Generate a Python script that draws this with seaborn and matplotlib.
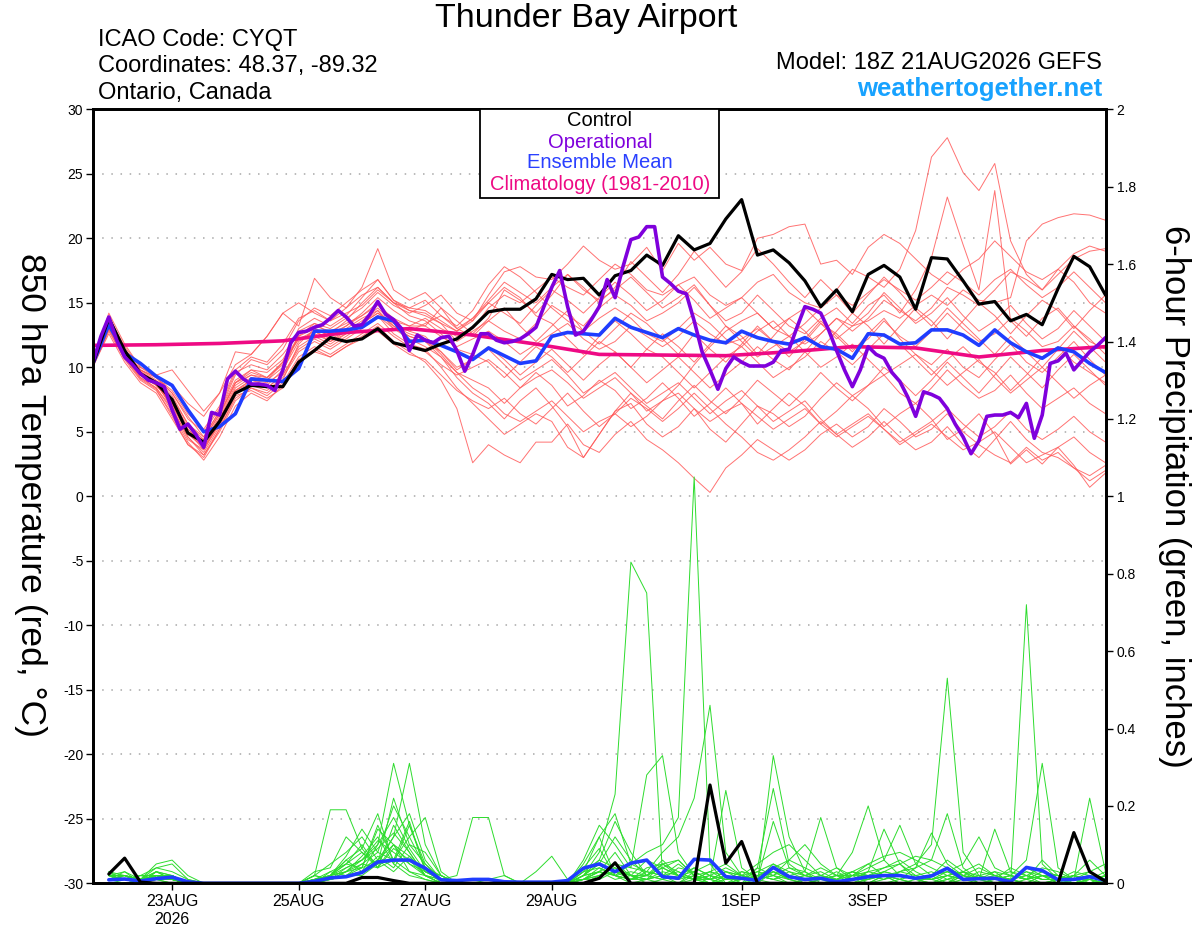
import matplotlib
matplotlib.use('Agg')
import matplotlib.pyplot as plt
import pandas as pd
import seaborn as sns
from matplotlib.patches import Rectangle

START = pd.Timestamp('2026-08-21 18:00')

# 850 hPa temperature, 6-hourly from 18Z 21AUG (65 steps)
control_t = [10.3, 13.8, 11.3, 9.5, 8.8, 7.5, 4.9, 4.2, 5.8, 8.0, 8.6, 8.5, 8.5,
             10.4, 11.3, 12.3, 12.0, 12.2, 13.0, 11.9, 11.6, 11.3, 11.8, 12.2, 13.1,
             14.3, 14.5, 14.5, 15.3, 17.2, 16.8, 16.9, 15.6, 17.1, 17.5, 18.7, 17.9,
             20.2, 19.1, 19.6, 21.5, 23.0, 18.7, 19.1, 18.1, 16.7, 14.7, 16.0, 14.3,
             17.2, 17.9, 17.0, 14.5, 18.5, 18.4, 16.7, 14.9, 15.1, 13.6, 14.1, 13.3,
             16.1, 18.6, 17.8, 15.6]
mean_t = [10.3, 13.3, 11.1, 10.3, 9.3, 8.6, 6.7, 5.0, 5.4, 6.4, 9.1, 9.0, 8.9,
          9.9, 12.8, 12.8, 12.9, 13.1, 13.9, 13.6, 12.0, 12.1, 11.7, 11.2, 10.6,
          11.5, 10.9, 10.3, 10.5, 12.4, 12.7, 12.6, 12.5, 13.8, 13.1, 12.7, 12.3,
          13.0, 12.5, 12.1, 11.9, 12.8, 12.3, 12.0, 11.8, 12.3, 11.6, 11.4, 10.7,
          12.6, 12.5, 11.8, 11.9, 12.9, 12.9, 12.5, 11.7, 12.9, 11.9, 11.2, 10.7,
          11.5, 11.2, 10.3, 9.6]
# operational run, 3-hourly (129 steps)
oper_t = [10.4, 12.4, 13.9, 12.1, 10.8, 10.2, 9.5, 9.0,
          8.8, 8.5, 6.7, 5.2, 5.6, 4.8, 3.8, 6.5,
          6.3, 9.1, 9.7, 9.1, 8.7, 8.7, 8.6, 8.2,
          9.8, 11.9, 12.7, 12.8, 13.1, 13.3, 13.8, 14.4,
          13.9, 13.2, 13.3, 14.1, 15.1, 14.1, 13.7, 13.0,
          11.3, 12.5, 12.1, 11.9, 12.3, 12.4, 11.3, 9.7,
          11.0, 12.6, 12.6, 12.1, 11.9, 12.0, 12.2, 12.6,
          13.1, 14.7, 16.2, 17.5, 14.7, 12.5, 12.8, 13.7,
          14.7, 16.8, 15.4, 17.8, 19.9, 20.1, 20.9, 20.9,
          17.0, 16.5, 15.9, 15.7, 13.6, 11.2, 9.8, 8.3,
          9.9, 10.8, 10.4, 10.1, 10.1, 10.1, 10.4, 11.3,
          11.4, 13.1, 14.7, 14.5, 14.2, 12.9, 11.3, 9.8,
          8.5, 9.8, 11.6, 11.0, 10.7, 9.6, 8.9, 7.7,
          6.2, 8.1, 7.9, 7.6, 6.8, 5.6, 4.6, 3.3,
          4.3, 6.2, 6.3, 6.3, 6.5, 6.1, 7.2, 4.5,
          6.3, 10.3, 10.5, 11.1, 9.8, 10.5, 11.2, 11.7,
          12.3]
# climatology, daily (17 steps)
clim_t = [11.7, 11.75, 11.85, 12.05, 12.7, 13.0, 12.5, 11.8, 11.0, 10.95, 10.9,
          11.2, 11.6, 11.5, 10.8, 11.3, 11.6]

member_t = [
    [10.2, 13.4, 11.0, 9.4, 8.6, 7.2, 5.0, 3.6, 5.8, 8.2, 9.0, 8.8, 9.6, 12.6, 13.2, 12.8, 13.4,
     14.0, 15.0, 13.6, 13.2, 13.8, 13.0, 12.4, 13.0, 14.6, 15.6, 15.0, 16.0, 17.0, 16.2, 15.6, 16.8,
     18.0, 17.2, 16.0, 15.6, 16.4, 17.0, 15.6, 14.8, 15.4, 16.6, 17.2, 15.8, 15.0, 14.6, 16.0, 17.6,
     17.0, 16.2, 17.6, 20.6, 26.3, 27.8, 25.1, 23.7, 25.8, 19.8, 17.2, 16.0, 17.6, 16.6, 15.0, 14.2],
    [10.4, 13.8, 11.4, 9.8, 9.2, 8.0, 6.2, 4.6, 6.6, 9.4, 10.6, 10.2, 11.4, 13.6, 14.6, 14.0, 15.0,
     16.0, 16.8, 15.2, 14.4, 14.0, 13.4, 12.0, 12.8, 13.6, 12.8, 12.2, 13.4, 14.8, 14.0, 13.2, 14.6,
     15.6, 14.8, 13.6, 14.2, 15.0, 16.2, 14.8, 13.6, 14.2, 15.6, 14.4, 13.2, 12.6, 13.8, 14.6, 13.4,
     14.8, 15.6, 14.2, 16.0, 18.5, 23.2, 19.5, 16.0, 23.7, 13.6, 12.4, 13.8, 14.6, 13.2, 12.0, 11.4],
    [10.1, 13.0, 10.8, 9.2, 8.4, 6.8, 4.6, 3.2, 5.2, 7.6, 8.4, 8.0, 9.0, 11.8, 13.0, 12.6, 13.6,
     15.0, 16.2, 15.0, 14.6, 15.2, 14.0, 13.2, 14.4, 16.4, 17.8, 17.0, 15.8, 14.6, 13.6, 12.8, 13.8,
     14.6, 13.8, 12.6, 12.0, 13.0, 14.2, 13.4, 12.2, 11.6, 12.8, 13.6, 12.4, 11.8, 12.6, 13.8, 13.2,
     13.6, 14.4, 13.8, 14.8, 15.6, 14.8, 16.0, 15.2, 15.0, 15.4, 19.8, 21.1, 21.6, 21.9, 21.8, 21.4],
    [10.0, 12.8, 10.6, 9.0, 8.2, 6.4, 4.2, 2.8, 4.6, 7.0, 8.0, 7.4, 8.6, 10.6, 11.4, 10.8, 11.6,
     12.4, 13.2, 12.0, 11.2, 10.4, 9.0, 6.8, 2.6, 4.0, 3.2, 2.6, 4.2, 4.2, 5.6, 4.0, 3.4,
     4.8, 5.8, 4.4, 3.6, 2.6, 1.4, 0.3, 2.2, 3.2, 4.4, 3.6, 2.8, 3.6, 4.8, 5.6, 4.6,
     5.4, 6.8, 5.8, 4.6, 5.2, 6.4, 5.0, 4.0, 3.2, 2.6, 3.8, 2.8, 3.4, 2.2, 1.6, 2.4],
    [10.3, 13.2, 11.0, 9.6, 8.8, 7.6, 5.6, 4.4, 6.4, 8.8, 9.8, 9.2, 10.4, 12.2, 12.8, 12.0, 12.6,
     13.4, 14.4, 13.0, 12.4, 12.0, 11.2, 10.0, 10.6, 11.4, 10.2, 9.0, 9.8, 10.6, 9.4, 8.0, 8.8,
     9.6, 8.4, 7.2, 8.0, 8.8, 7.6, 6.4, 7.4, 8.2, 7.0, 5.8, 6.6, 7.4, 6.0, 4.8, 5.6,
     6.4, 5.2, 4.0, 4.8, 5.6, 4.6, 3.6, 4.2, 5.0, 3.8, 2.6, 3.2, 3.8, 2.4, 0.7, 1.8],
    [10.5, 14.2, 11.8, 10.0, 9.4, 9.8, 8.2, 6.6, 8.0, 11.2, 11.0, 12.4, 14.2, 13.2, 16.9, 15.4, 14.6,
     16.2, 19.2, 16.0, 15.2, 15.8, 14.6, 13.0, 13.8, 15.0, 16.2, 15.4, 14.0, 13.4, 12.2, 11.0, 12.4,
     13.6, 12.6, 11.4, 10.8, 9.6, 8.4, 9.6, 10.8, 11.6, 10.4, 9.2, 10.0, 10.8, 12.0, 11.2, 10.2,
     11.4, 12.6, 11.8, 10.6, 9.4, 10.6, 11.6, 10.4, 9.6, 8.2, 9.4, 10.8, 11.6, 10.4, 9.6, 8.8],
    [10.2, 13.6, 11.2, 9.6, 8.8, 7.4, 5.4, 4.2, 6.0, 8.6, 9.4, 9.0, 10.0, 12.4, 13.4, 13.0, 13.8,
     14.6, 15.8, 14.8, 14.2, 14.8, 15.6, 14.2, 13.6, 15.6, 17.4, 17.8, 17.0, 16.8, 18.0, 19.4, 18.3,
     17.6, 18.0, 19.3, 17.5, 19.6, 18.3, 19.3, 18.0, 17.5, 20.0, 20.3, 20.9, 21.1, 18.0, 18.3, 17.2,
     19.3, 20.3, 19.6, 18.4, 17.2, 16.4, 17.6, 18.4, 19.8, 18.6, 17.4, 16.8, 17.6, 18.8, 19.4, 19.0],
    [10.3, 13.4, 11.0, 9.4, 8.8, 6.8, 4.6, 3.4, 5.4, 8.0, 8.6, 8.2, 9.2, 11.2, 12.0, 11.4, 12.2,
     13.0, 14.0, 12.6, 11.8, 11.4, 10.0, 8.4, 7.2, 6.0, 4.8, 5.6, 6.4, 5.8, 3.8, 3.0, 4.8,
     6.6, 7.2, 5.6, 4.6, 5.4, 6.8, 5.2, 4.2, 5.6, 7.0, 6.4, 5.4, 6.2, 7.6, 8.8, 7.8,
     8.6, 9.4, 8.0, 7.2, 8.4, 9.8, 8.6, 7.6, 8.2, 9.4, 8.0, 6.8, 7.6, 8.4, 7.2, 6.4],
    [10.4, 13.6, 11.4, 9.8, 9.0, 7.8, 5.6, 4.6, 6.6, 9.0, 9.8, 9.6, 10.6, 12.8, 13.4, 12.6, 13.2,
     14.0, 14.8, 13.8, 13.2, 13.2, 12.4, 11.6, 12.2, 12.8, 12.0, 11.0, 11.8, 12.6, 13.4, 12.2, 11.4,
     12.0, 13.2, 12.4, 11.6, 12.4, 13.6, 12.6, 11.8, 12.2, 13.0, 12.0, 11.2, 12.0, 13.4, 12.6, 11.4,
     12.2, 13.6, 12.4, 11.6, 12.8, 14.2, 13.0, 12.0, 12.6, 13.8, 12.8, 11.6, 12.0, 13.2, 12.2, 11.0],
    [10.1, 12.6, 10.4, 8.8, 8.0, 6.0, 4.0, 3.2, 5.0, 7.4, 8.4, 7.8, 8.8, 10.8, 11.6, 11.0, 11.8,
     12.6, 13.4, 12.4, 11.6, 11.2, 10.2, 9.4, 10.0, 10.6, 9.6, 8.4, 9.2, 9.8, 8.8, 7.6, 8.4,
     9.2, 8.0, 6.6, 7.4, 8.0, 6.8, 5.8, 6.6, 7.2, 6.2, 5.2, 6.0, 6.8, 5.6, 4.6, 5.4,
     6.2, 5.2, 4.2, 5.0, 5.8, 6.8, 5.6, 4.6, 5.4, 6.6, 5.2, 4.4, 5.2, 6.2, 5.0, 4.2],
    [10.3, 13.5, 11.3, 9.6, 8.7, 7.0, 4.8, 3.8, 5.8, 8.4, 9.2, 9.0, 10.4, 13.0, 13.8, 13.2, 14.0,
     15.4, 16.8, 15.2, 14.6, 14.4, 13.6, 12.8, 13.6, 15.0, 14.2, 13.4, 14.8, 16.0, 15.2, 14.2, 15.4,
     16.6, 15.6, 14.4, 15.2, 16.4, 15.2, 13.8, 14.6, 15.4, 14.2, 13.0, 13.8, 14.6, 13.4, 12.2, 13.2,
     14.2, 15.8, 14.6, 13.4, 14.2, 15.4, 14.0, 12.8, 13.6, 14.8, 13.4, 12.2, 13.0, 14.4, 13.2, 12.0],
    [10.2, 13.3, 11.1, 9.4, 8.6, 7.4, 5.2, 4.0, 6.0, 8.2, 9.0, 8.6, 9.8, 12.0, 12.8, 12.2, 12.8,
     13.6, 14.6, 13.4, 12.8, 12.4, 11.2, 9.8, 10.6, 11.6, 10.6, 9.4, 10.4, 11.4, 10.2, 9.0, 10.2,
     11.2, 10.0, 8.8, 9.8, 10.8, 9.6, 8.4, 9.4, 10.4, 11.6, 10.6, 9.8, 11.2, 12.6, 13.8, 12.8,
     13.8, 15.2, 14.4, 13.6, 14.6, 16.2, 15.6, 14.8, 16.0, 17.4, 16.8, 16.0, 17.2, 18.4, 19.0, 19.2],
    [10.4, 13.7, 11.2, 9.8, 9.2, 8.0, 6.0, 5.0, 6.8, 9.6, 10.2, 9.8, 11.0, 12.6, 13.0, 12.4, 13.0,
     13.8, 14.4, 13.2, 12.6, 12.2, 11.0, 9.6, 9.0, 8.4, 7.2, 8.4, 9.6, 8.6, 7.0, 7.8, 9.0,
     8.2, 6.8, 7.6, 8.8, 7.6, 6.2, 7.2, 8.4, 7.2, 5.6, 6.8, 8.0, 7.0, 5.6, 6.6, 7.8,
     6.8, 5.4, 6.4, 7.2, 6.0, 4.4, 5.2, 6.4, 4.8, 2.5, 3.6, 2.5, 3.8, 4.6, 3.4, 2.6],
    [10.2, 13.0, 10.8, 9.4, 8.6, 7.2, 5.0, 4.4, 6.4, 8.8, 9.4, 9.2, 10.2, 12.2, 12.6, 12.0, 12.8,
     13.4, 14.2, 13.4, 12.8, 13.4, 14.0, 13.0, 12.4, 13.6, 14.6, 13.2, 12.0, 13.2, 14.4, 12.8, 11.8,
     13.0, 14.2, 13.4, 12.2, 11.0, 12.6, 11.4, 10.4, 11.8, 13.2, 12.0, 10.8, 12.2, 13.6, 12.4, 11.2,
     12.6, 13.8, 12.2, 11.0, 10.2, 11.4, 10.0, 9.2, 10.6, 11.8, 10.4, 9.6, 10.8, 12.0, 10.6, 9.4],
    [10.3, 13.1, 10.9, 9.2, 8.4, 6.6, 4.4, 3.6, 5.6, 8.2, 8.8, 8.4, 9.4, 11.4, 12.2, 11.6, 12.4,
     13.2, 14.0, 13.0, 12.2, 11.6, 10.8, 9.6, 8.4, 7.6, 6.4, 5.8, 6.6, 7.4, 6.2, 5.0, 5.8,
     6.4, 5.4, 6.2, 7.4, 8.6, 10.2, 11.6, 12.8, 13.6, 14.2, 13.0, 12.4, 13.4, 14.6, 15.6, 14.8,
     15.8, 16.8, 16.0, 15.2, 16.2, 17.4, 16.6, 15.6, 16.8, 17.6, 16.4, 15.4, 16.2, 17.4, 16.2, 15.0],
    [10.4, 13.9, 11.6, 10.0, 9.2, 8.2, 6.4, 5.2, 7.0, 9.8, 10.8, 10.4, 11.8, 13.8, 14.4, 13.6, 14.2,
     14.8, 16.0, 15.0, 14.4, 14.2, 13.4, 12.8, 13.8, 15.2, 16.6, 15.8, 15.0, 16.2, 17.2, 16.0, 15.2,
     16.0, 17.0, 15.8, 14.6, 15.4, 16.4, 14.8, 13.2, 12.0, 10.8, 11.6, 12.4, 11.2, 10.0, 10.8, 11.8,
     10.6, 9.4, 10.2, 11.0, 9.8, 8.6, 9.6, 10.6, 9.2, 8.0, 9.0, 10.0, 8.8, 7.6, 8.6, 9.4],
    [10.3, 13.5, 11.2, 9.7, 8.9, 8.6, 7.2, 6.2, 8.0, 10.2, 11.0, 12.4, 14.2, 15.0, 14.2, 13.6, 14.6,
     15.6, 16.2, 15.0, 14.0, 13.6, 12.6, 11.4, 11.0, 10.4, 9.2, 10.4, 11.6, 10.8, 9.6, 10.8, 12.0,
     11.2, 10.0, 11.4, 12.6, 11.6, 10.4, 11.8, 13.2, 12.4, 11.0, 12.4, 13.8, 12.8, 11.4, 12.8, 14.2,
     13.2, 11.8, 13.2, 14.6, 13.6, 12.2, 13.6, 15.0, 14.0, 12.6, 14.0, 15.2, 14.4, 13.0, 14.4, 15.6],
    [10.1, 12.9, 10.7, 9.1, 8.3, 6.2, 4.0, 3.0, 5.2, 7.8, 8.2, 7.6, 8.4, 10.4, 11.2, 10.8, 11.6,
     12.2, 12.8, 11.8, 11.0, 10.6, 9.4, 8.2, 7.4, 6.8, 7.6, 6.4, 5.6, 6.8, 8.0, 6.6, 5.4,
     6.4, 7.6, 6.8, 5.8, 6.8, 8.0, 6.8, 5.6, 4.6, 3.4, 2.8, 3.6, 4.6, 5.8, 4.8, 3.8,
     4.6, 5.8, 4.6, 3.6, 4.2, 5.4, 4.0, 3.0, 4.4, 5.8, 4.4, 3.4, 3.0, 2.2, 1.2, 2.0],
    [10.3, 13.2, 11.0, 9.6, 8.8, 7.2, 5.2, 4.2, 6.2, 8.8, 9.6, 9.2, 10.4, 12.4, 13.0, 12.4, 13.2,
     14.2, 15.4, 14.4, 13.6, 13.2, 14.6, 13.6, 12.6, 13.8, 16.0, 15.2, 14.2, 15.6, 17.2, 16.2, 15.0,
     16.2, 18.2, 17.0, 15.8, 17.2, 19.0, 17.6, 16.2, 17.4, 19.2, 18.0, 16.6, 15.4, 16.8, 15.6, 14.2,
     15.6, 17.0, 15.8, 14.4, 13.2, 14.6, 13.4, 12.2, 11.0, 12.4, 11.2, 10.0, 11.4, 12.8, 11.6, 10.4],
    [10.2, 13.4, 11.0, 9.5, 8.7, 7.0, 5.0, 3.8, 5.6, 8.0, 8.8, 8.4, 9.4, 11.6, 12.4, 11.8, 12.6,
     13.4, 14.2, 13.2, 12.4, 12.0, 10.8, 9.2, 8.0, 7.2, 6.0, 7.4, 8.4, 7.0, 5.4, 3.0, 4.8,
     6.6, 8.0, 7.0, 6.0, 7.4, 8.6, 7.4, 6.4, 7.6, 9.0, 8.0, 7.0, 8.2, 9.6, 8.4, 7.4,
     8.6, 10.0, 9.0, 7.8, 9.0, 10.4, 9.2, 8.0, 9.4, 10.8, 9.6, 8.4, 9.8, 11.0, 9.8, 8.6],
]

# 6-hour precipitation (inches), steps 1..64
control_p = [0.024, 0.065, 0.003, 0, 0, 0, 0, 0, 0, 0, 0, 0, 0, 0, 0, 0,
             0.015, 0.015, 0.007, 0, 0, 0, 0, 0, 0, 0, 0, 0, 0, 0, 0, 0.013,
             0.053, 0, 0, 0, 0, 0, 0.254, 0.052, 0.108, 0, 0, 0, 0, 0, 0, 0,
             0, 0, 0, 0, 0, 0, 0, 0, 0, 0, 0, 0, 0, 0.131, 0.03, 0.005]
mean_p = [0.009, 0.011, 0.006, 0.012, 0.016, 0.004, 0, 0, 0, 0, 0, 0, 0, 0.005, 0.014, 0.017,
          0.028, 0.055, 0.06, 0.06, 0.039, 0.009, 0.007, 0.01, 0.01, 0.004, 0.003, 0.003,
          0.003, 0.007, 0.039, 0.05, 0.03, 0.052, 0.06, 0.017, 0.013, 0.062, 0.06, 0.017,
          0.013, 0.007, 0.041, 0.017, 0.01, 0.013, 0.004, 0.01, 0.017, 0.02, 0.02, 0.013,
          0.019, 0.039, 0.01, 0.012, 0.013, 0.004, 0.041, 0.033, 0.009, 0.01, 0.017, 0.007]
member_p = [
    [0.02, 0.01, 0, 0.03, 0.01, 0, 0, 0, 0, 0, 0, 0, 0, 0.02, 0.05, 0.08,
     0.12, 0.06, 0.1, 0.03, 0.01, 0, 0, 0, 0, 0, 0, 0, 0, 0, 0.02, 0.08,
     0.23, 0.83, 0.75, 0.02, 0, 0.01, 0, 0.02, 0, 0, 0.03, 0.01, 0, 0, 0, 0,
     0, 0.02, 0, 0, 0, 0.01, 0, 0, 0, 0, 0, 0, 0, 0, 0.01, 0],
    [0.03, 0.02, 0, 0.02, 0.02, 0, 0, 0, 0, 0, 0, 0, 0, 0, 0.02, 0.06,
     0.09, 0.18, 0.05, 0.02, 0.01, 0, 0, 0, 0, 0, 0, 0, 0, 0, 0.05, 0.12,
     0.02, 0.05, 0.08, 0.1, 0.17, 1.05, 0.05, 0, 0, 0.02, 0.01, 0, 0, 0, 0, 0.02,
     0, 0, 0, 0, 0, 0, 0.03, 0.01, 0, 0, 0, 0, 0, 0.02, 0, 0],
    [0.01, 0.02, 0.01, 0.04, 0.05, 0.01, 0, 0, 0, 0, 0, 0, 0, 0, 0.01, 0.03,
     0.06, 0.1, 0.31, 0.15, 0.05, 0.01, 0, 0, 0, 0, 0, 0, 0, 0, 0.03, 0.06,
     0.04, 0.01, 0.03, 0.08, 0.12, 0.22, 0.46, 0.08, 0.02, 0, 0.33, 0.12, 0.03, 0, 0, 0,
     0, 0.02, 0.01, 0, 0, 0, 0.02, 0, 0, 0, 0.01, 0, 0, 0, 0, 0],
    [0.02, 0.01, 0, 0.02, 0.01, 0, 0, 0, 0, 0, 0, 0, 0, 0.03, 0.04, 0.12,
     0.08, 0.05, 0.12, 0.31, 0.1, 0.02, 0, 0, 0, 0, 0, 0, 0, 0, 0.01, 0.04,
     0.02, 0, 0.01, 0.05, 0.06, 0.02, 0.01, 0.24, 0.04, 0.01, 0.05, 0.02, 0.01, 0, 0, 0,
     0.02, 0.01, 0.03, 0.05, 0.1, 0.53, 0.08, 0.02, 0, 0.01, 0, 0, 0.01, 0, 0, 0],
    [0.01, 0.03, 0.01, 0.05, 0.06, 0.02, 0, 0, 0, 0, 0, 0, 0, 0, 0.02, 0.05,
     0.1, 0.04, 0.15, 0.08, 0.02, 0, 0, 0, 0, 0, 0, 0, 0, 0, 0.02, 0.03,
     0.01, 0.02, 0, 0.01, 0, 0.03, 0.01, 0, 0.02, 0.01, 0, 0, 0, 0.01, 0.02, 0,
     0, 0, 0.01, 0, 0.02, 0, 0.01, 0.02, 0.03, 0, 0.72, 0.05, 0.01, 0, 0, 0.02],
    [0.03, 0.01, 0, 0.03, 0.02, 0, 0, 0, 0, 0, 0, 0, 0, 0.01, 0.03, 0.05,
     0.04, 0.15, 0.06, 0.12, 0.17, 0.03, 0, 0, 0.01, 0.02, 0, 0, 0, 0, 0.01, 0.02,
     0.05, 0.04, 0.28, 0.33, 0.08, 0.02, 0, 0.02, 0, 0.04, 0.02, 0.01, 0, 0, 0, 0.02,
     0.05, 0.02, 0, 0.01, 0, 0.02, 0.01, 0, 0.01, 0.02, 0.06, 0.31, 0.04, 0.01, 0.22, 0.03],
    [0.02, 0.02, 0.01, 0.02, 0.01, 0, 0, 0, 0, 0, 0, 0, 0, 0, 0.02, 0.04,
     0.06, 0.11, 0.08, 0.05, 0.03, 0.01, 0.02, 0.17, 0.17, 0.02, 0, 0, 0, 0, 0.04, 0.09,
     0.02, 0.01, 0.02, 0.05, 0.03, 0.01, 0, 0.01, 0.03, 0.02, 0.01, 0.02, 0, 0.01, 0.02, 0.08,
     0.2, 0.06, 0.02, 0.01, 0, 0.01, 0.03, 0, 0, 0.01, 0, 0.02, 0, 0, 0, 0.01],
    [0.01, 0.01, 0.02, 0.04, 0.03, 0.01, 0, 0, 0, 0, 0, 0, 0, 0.02, 0.19, 0.19,
     0.09, 0.04, 0.1, 0.05, 0.02, 0, 0, 0, 0, 0, 0, 0, 0, 0, 0.02, 0.05,
     0.03, 0.02, 0.06, 0.04, 0.02, 0.01, 0.03, 0.02, 0.01, 0.04, 0.245, 0.05, 0.02, 0.01, 0, 0,
     0.01, 0.03, 0.05, 0.02, 0.01, 0.03, 0.01, 0.02, 0, 0.01, 0.02, 0, 0.01, 0, 0.02, 0],
    [0.02, 0.03, 0, 0.02, 0.01, 0, 0, 0, 0, 0, 0, 0, 0, 0, 0.01, 0.02,
     0.05, 0.08, 0.2, 0.12, 0.04, 0.02, 0, 0, 0, 0, 0, 0, 0, 0, 0.01, 0.03,
     0.08, 0.02, 0.02, 0.06, 0.02, 0.03, 0.05, 0.03, 0.02, 0.01, 0.16, 0.04, 0.03, 0.17, 0.04, 0.01,
     0.03, 0.02, 0.01, 0.04, 0.06, 0.18, 0.04, 0.01, 0.03, 0.02, 0.01, 0.06, 0.02, 0.01, 0.03, 0.01],
    [0.01, 0.01, 0, 0.01, 0.02, 0, 0, 0, 0, 0, 0, 0, 0, 0.01, 0.02, 0.03,
     0.04, 0.14, 0.1, 0.07, 0.03, 0.01, 0, 0, 0, 0, 0, 0, 0, 0, 0.02, 0.05,
     0.12, 0.06, 0.02, 0.01, 0.04, 0.03, 0.01, 0, 0.01, 0.02, 0.03, 0.01, 0.02, 0.04, 0.02, 0.01,
     0.03, 0.14, 0.05, 0.01, 0.02, 0.04, 0.02, 0.01, 0.14, 0.03, 0.01, 0.02, 0.01, 0.02, 0.01, 0.03],
    [0.02, 0.01, 0.01, 0.03, 0.02, 0, 0, 0, 0, 0, 0, 0, 0, 0.01, 0.02, 0.06,
     0.03, 0.07, 0.04, 0.1, 0.08, 0.02, 0, 0, 0, 0, 0, 0, 0, 0, 0.06, 0.15,
     0.1, 0.04, 0.03, 0.02, 0.05, 0.02, 0.01, 0.03, 0.02, 0.01, 0.04, 0.02, 0.01, 0.02, 0.04, 0.02,
     0.04, 0.06, 0.15, 0.05, 0.02, 0.03, 0.05, 0.12, 0.04, 0.02, 0.01, 0.03, 0.02, 0, 0.01, 0.02],
    [0.01, 0.02, 0.01, 0.02, 0.01, 0, 0, 0, 0, 0, 0, 0, 0, 0.01, 0.01, 0.02,
     0.03, 0.06, 0.12, 0.18, 0.06, 0.01, 0, 0, 0, 0, 0, 0, 0, 0, 0.01, 0.02,
     0.03, 0.01, 0.02, 0.04, 0.06, 0.02, 0.03, 0.05, 0.02, 0.03, 0.02, 0.06, 0.04, 0.02, 0.01, 0.03,
     0.02, 0.01, 0.03, 0.04, 0.13, 0.05, 0.02, 0.04, 0.02, 0.01, 0.02, 0.04, 0.03, 0.01, 0, 0.02],
    [0.02, 0.02, 0, 0.01, 0, 0, 0, 0, 0, 0, 0, 0, 0, 0.02, 0.01, 0.03,
     0.07, 0.12, 0.05, 0.15, 0.04, 0, 0, 0, 0, 0, 0, 0, 0, 0, 0.03, 0.12,
     0.18, 0.05, 0.03, 0.02, 0.01, 0.04, 0.02, 0, 0.01, 0.03, 0.05, 0.03, 0.01, 0.02, 0.01, 0.03,
     0.02, 0.03, 0.02, 0.01, 0.02, 0.06, 0.03, 0.02, 0.01, 0.04, 0.02, 0.01, 0.01, 0.02, 0.06, 0.02],
    [0.01, 0.01, 0.02, 0.02, 0.01, 0, 0, 0, 0, 0, 0, 0, 0, 0, 0.03, 0.02,
     0.02, 0.05, 0.22, 0.1, 0.05, 0.01, 0, 0, 0, 0, 0, 0.03, 0.07, 0.01, 0.01, 0.03,
     0.02, 0.01, 0.04, 0.05, 0.02, 0.04, 0.02, 0.01, 0.02, 0.01, 0.03, 0.02, 0.03, 0.01, 0.02, 0.02,
     0.02, 0.04, 0.06, 0.03, 0.01, 0.02, 0.03, 0.05, 0.02, 0.01, 0.04, 0.02, 0.02, 0.01, 0.02, 0.01],
    [0.02, 0.01, 0, 0.02, 0.02, 0, 0, 0, 0, 0, 0, 0, 0, 0.01, 0.01, 0.04,
     0.06, 0.09, 0.13, 0.08, 0.02, 0.01, 0, 0, 0, 0, 0, 0, 0, 0, 0.02, 0.06,
     0.16, 0.08, 0.02, 0.01, 0.02, 0.01, 0.02, 0.04, 0.02, 0.05, 0.08, 0.1, 0.06, 0.02, 0.01, 0.02,
     0.03, 0.04, 0.05, 0.07, 0.06, 0.04, 0.02, 0.01, 0.02, 0.03, 0.02, 0.01, 0.01, 0.02, 0.03, 0.05],
    [0.01, 0.02, 0.01, 0.03, 0.01, 0, 0, 0, 0, 0, 0, 0, 0, 0, 0.02, 0.07,
     0.14, 0.08, 0.06, 0.16, 0.03, 0.02, 0, 0, 0, 0, 0, 0, 0, 0, 0.01, 0.01,
     0.03, 0.02, 0.01, 0.03, 0.02, 0.01, 0.03, 0.01, 0.03, 0.02, 0.04, 0.06, 0.1, 0.05, 0.02, 0.03,
     0.05, 0.07, 0.08, 0.06, 0.04, 0.02, 0.03, 0.01, 0.02, 0.01, 0.03, 0.02, 0.01, 0.03, 0.02, 0.01],
    [0.02, 0.01, 0.01, 0.01, 0.01, 0, 0, 0, 0, 0, 0, 0, 0, 0.01, 0.02, 0.03,
     0.05, 0.04, 0.09, 0.06, 0.02, 0, 0, 0, 0, 0, 0, 0, 0, 0, 0.03, 0.04,
     0.02, 0.01, 0.01, 0.02, 0.03, 0.01, 0.01, 0.02, 0.01, 0.02, 0.01, 0.03, 0.02, 0.01, 0.03, 0.01,
     0.01, 0.02, 0.01, 0.02, 0.03, 0.01, 0.02, 0.01, 0.01, 0.02, 0.01, 0.03, 0.02, 0.01, 0.01, 0.02],
    [0.01, 0, 0, 0.01, 0, 0, 0, 0, 0, 0, 0, 0, 0, 0, 0.01, 0.02,
     0.04, 0.06, 0.03, 0.07, 0.02, 0, 0, 0, 0, 0, 0, 0, 0, 0, 0, 0.02,
     0.04, 0.02, 0.01, 0.02, 0.01, 0.02, 0, 0, 0, 0.01, 0.02, 0, 0.01, 0, 0.01, 0,
     0, 0.01, 0.02, 0.01, 0.01, 0, 0.02, 0.01, 0, 0.01, 0, 0.02, 0, 0, 0.01, 0],
    [0.02, 0.02, 0.01, 0.02, 0.01, 0, 0, 0, 0, 0, 0, 0, 0, 0.02, 0.01, 0.02,
     0.03, 0.1, 0.17, 0.09, 0.03, 0.01, 0, 0, 0, 0, 0, 0, 0, 0, 0.01, 0.03,
     0.05, 0.02, 0.01, 0, 0, 0.02, 0.01, 0.03, 0.01, 0.02, 0.04, 0.01, 0.02, 0.03, 0.01, 0,
     0.01, 0.02, 0.03, 0.02, 0.01, 0.02, 0.01, 0.03, 0.02, 0.01, 0.03, 0.01, 0.01, 0.02, 0.01, 0],
    [0.01, 0.01, 0.02, 0.01, 0.01, 0, 0, 0, 0, 0, 0, 0, 0, 0.01, 0.02, 0.05,
     0.08, 0.04, 0.06, 0.03, 0.02, 0.01, 0, 0, 0, 0, 0, 0, 0, 0, 0.02, 0.03,
     0.02, 0.03, 0.02, 0.04, 0.02, 0.01, 0.02, 0.01, 0.01, 0.01, 0.02, 0.04, 0.02, 0.01, 0.01, 0.03,
     0.01, 0.03, 0.02, 0.01, 0.02, 0.03, 0.01, 0.02, 0.01, 0.02, 0.01, 0.02, 0.01, 0.01, 0.02, 0.01],
]

TICK_DATES = ['2026-08-23', '2026-08-25', '2026-08-27', '2026-08-29',
              '2026-09-01', '2026-09-03', '2026-09-05']
TICK_LABELS = ['23AUG\n2026', '25AUG', '27AUG', '29AUG', '1SEP', '3SEP', '5SEP']
TEMP_TICKS = list(range(-30, 31, 5))
PRECIP_TICKS = [0, 0.2, 0.4, 0.6, 0.8, 1, 1.2, 1.4, 1.6, 1.8, 2]

RED = '#ff5a5a'
GREEN = '#2ddc2d'
PURPLE = '#7f00dc'
BLUE = '#1f3dff'
PINK = '#ee0a84'

sns.set_theme(style='white')
plt.rcParams['font.family'] = ['Liberation Sans', 'DejaVu Sans']
plt.rcParams['text.color'] = 'black'
plt.rcParams['xtick.color'] = 'black'
plt.rcParams['ytick.color'] = 'black'
plt.rcParams['axes.labelcolor'] = 'black'

times6 = pd.date_range(START, periods=len(control_t), freq='6h')
times3 = pd.date_range(START, periods=len(oper_t), freq='3h')
times24 = pd.date_range(START, periods=len(clim_t), freq='24h')

temp_long = pd.DataFrame(
    [(t, k, v) for k, series in enumerate(member_t) for t, v in zip(times6, series)],
    columns=['time', 'member', 'temp'])
precip_long = pd.DataFrame(
    [(t, k, v) for k, series in enumerate(member_p) for t, v in zip(times6[1:], series)],
    columns=['time', 'member', 'precip'])

fig = plt.figure(figsize=(12, 9.27), dpi=100)
ax = fig.add_axes([93 / 1200, 1 - 883.3 / 927, 1012.5 / 1200, 774 / 927])

sns.lineplot(data=temp_long, x='time', y='temp', units='member', estimator=None,
             color=RED, linewidth=0.7, alpha=0.85, legend=False, ax=ax)
sns.lineplot(x=times24, y=clim_t, color=PINK, linewidth=2.6, ax=ax)
sns.lineplot(x=times6, y=mean_t, color=BLUE, linewidth=2.6, ax=ax)
sns.lineplot(x=times6, y=control_t, color='black', linewidth=2.3, ax=ax)
sns.lineplot(x=times3, y=oper_t, color=PURPLE, linewidth=2.6, ax=ax)

ax.set_xlim(START, START + pd.Timedelta(hours=384))
ax.set_ylim(-30, 30)
ax.set_yticks(TEMP_TICKS)
ax.set_yticklabels([str(v) for v in TEMP_TICKS])
ax.set_xticks(pd.to_datetime(TICK_DATES))
ax.set_xticklabels(TICK_LABELS)
ax.set_xlabel('')
ax.set_ylabel('')
ax.yaxis.grid(True, color='#a8a8a8', linestyle=(0, (1, 5)), linewidth=1.1)
ax.xaxis.grid(False)
ax.set_axisbelow(True)
ax.tick_params(axis='y', direction='out', length=5, width=1, labelsize=10, pad=2, left=True)
ax.tick_params(axis='x', direction='out', length=5, width=1, labelsize=11.5, pad=3, bottom=True)

ax2 = ax.twinx()
sns.lineplot(data=precip_long, x='time', y='precip', units='member', estimator=None,
             color=GREEN, linewidth=0.7, legend=False, ax=ax2)
sns.lineplot(x=times6[1:], y=mean_p, color=BLUE, linewidth=2.6, ax=ax2)
sns.lineplot(x=times6[1:], y=control_p, color='black', linewidth=2.3, ax=ax2)
ax2.set_ylim(0, 2)
ax2.set_yticks(PRECIP_TICKS)
ax2.set_yticklabels(['0', '0.2', '0.4', '0.6', '0.8', '1', '1.2', '1.4', '1.6', '1.8', '2'])
ax2.set_ylabel('')
ax2.tick_params(axis='y', direction='out', length=5, width=1, labelsize=10, pad=3, right=True)

for a in (ax, ax2):
    for spine in a.spines.values():
        spine.set_linewidth(2.0)
        spine.set_color('black')

# header texts
fig.text(586 / 1200, 1 - 18 / 927, 'Thunder Bay Airport', ha='center', va='center', fontsize=24.5)
fig.text(98 / 1200, 1 - 40 / 927, 'ICAO Code: CYQT', ha='left', va='center', fontsize=17)
fig.text(98 / 1200, 1 - 66 / 927, 'Coordinates: 48.37, -89.32', ha='left', va='center', fontsize=17)
fig.text(98 / 1200, 1 - 93 / 927, 'Ontario, Canada', ha='left', va='center', fontsize=17)
fig.text(1102 / 1200, 1 - 63 / 927, 'Model: 18Z 21AUG2026 GEFS', ha='right', va='center', fontsize=17)
fig.text(1102 / 1200, 1 - 89 / 927, 'weathertogether.net', ha='right', va='center',
         fontsize=18.5, fontweight='bold', color='#17a2ff')

# legend box
fig.add_artist(Rectangle((480 / 1200, 1 - 198 / 927), 239 / 1200, 89 / 927,
                         transform=fig.transFigure, facecolor='white',
                         edgecolor='black', linewidth=1.3, zorder=5))
for text, color, ypx in [('Control', 'black', 121), ('Operational', PURPLE, 142),
                         ('Ensemble Mean', '#2a40ff', 163),
                         ('Climatology (1981-2010)', PINK, 185)]:
    fig.text(600 / 1200, 1 - ypx / 927, text, ha='center', va='center',
             fontsize=14.5, color=color, zorder=6)

# axis titles
fig.text(30 / 1200, 1 - 495 / 927, '850 hPa Temperature (red, °C)', rotation=270,
         ha='center', va='center', fontsize=25.5)
fig.text(1175 / 1200, 1 - 496 / 927, '6-hour Precipitation (green, inches)', rotation=270,
         ha='center', va='center', fontsize=25)

fig.savefig('out.png', dpi=100)
